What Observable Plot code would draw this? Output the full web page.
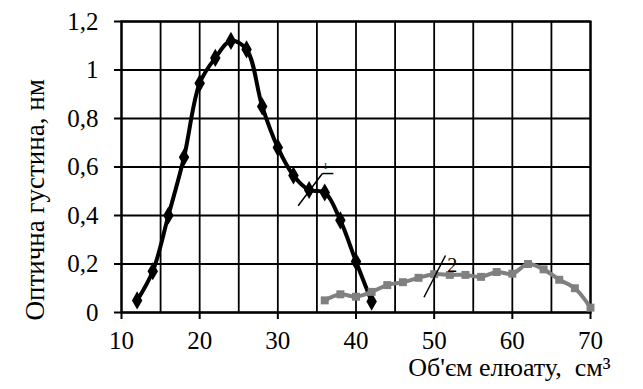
<!DOCTYPE html>
<html>
<head>
<meta charset="utf-8">
<script src="https://cdn.jsdelivr.net/npm/d3@7"></script>
<script src="https://cdn.jsdelivr.net/npm/@observablehq/plot@0.6"></script>
<style>
  html, body { margin: 0; padding: 0; background: #fff; }
  #chart svg, #chart svg text { font-family: "Liberation Serif", "Times New Roman", serif; }
</style>
</head>
<body>
<div id="chart"></div>
<script>
// ---- data ----
const xTicks = [10, 20, 30, 40, 50, 60, 70];
const xGridLines = [10, 15, 20, 25, 30, 35, 40, 45, 50, 55, 60, 65, 70];
const yTicks = [0, 0.2, 0.4, 0.6, 0.8, 1, 1.2];
const yTickLabels = ["0", "0,2", "0,4", "0,6", "0,8", "1", "1,2"];

const series1X = [12, 14, 16, 18, 20, 22, 24, 26, 28, 30, 32, 34, 36, 38, 40, 42];
const series1Y = [0.05, 0.17, 0.40, 0.64, 0.945, 1.05, 1.12, 1.085, 0.85, 0.68, 0.565, 0.505, 0.495, 0.38, 0.21, 0.045];

const series2X = [36, 38, 40, 42, 44, 46, 48, 50, 52, 54, 56, 58, 60, 62, 64, 66, 68, 70];
const series2Y = [0.05, 0.075, 0.065, 0.085, 0.113, 0.125, 0.143, 0.158, 0.155, 0.155, 0.147, 0.167, 0.16, 0.2, 0.178, 0.135, 0.1, 0.02];

const xTitle = "Об'єм елюату,  см³";
const yTitle = "Оптична густина, нм";

// annotation leaders (data coordinates)
const leaderX1 = [32.6, 35.7, 48.7];
const leaderY1 = [0.44, 0.573, 0.063];
const leaderX2 = [35.7, 37.1, 51.45];
const leaderY2 = [0.573, 0.573, 0.235];
const labelText = ["1", "2"];
const labelX = [36.1, 52.3];
const labelY = [0.603, 0.195];
const labelSize = [9, 20];

const s1 = series1X.map((x, i) => ({x, y: series1Y[i]}));
const s2 = series2X.map((x, i) => ({x, y: series2Y[i]}));
const leaders = leaderX1.map((x1, i) => ({x1, y1: leaderY1[i], x2: leaderX2[i], y2: leaderY2[i]}));
const labels = labelText.map((t, i) => ({t, x: labelX[i], y: labelY[i], s: labelSize[i]}));

const gray = "#808080";

const chart = Plot.plot({
  width: 643,
  height: 389,
  marginLeft: 121,
  marginRight: 53,
  marginTop: 21,
  marginBottom: 77,
  x: {domain: [10, 70]},
  y: {domain: [0, 1.2]},
  style: {fontFamily: "Liberation Serif", fontSize: "25px", color: "black", background: "white", overflow: "visible"},
  marks: [
    Plot.gridX(xGridLines, {stroke: "black", strokeOpacity: 1, strokeWidth: 1.8}),
    Plot.gridY(yTicks, {stroke: "black", strokeOpacity: 1, strokeWidth: 1.8}),
    Plot.frame({stroke: "black", strokeWidth: 2.2}),
    Plot.axisX(xTicks, {tickSize: 7, tickPadding: 12, label: null, strokeWidth: 2, fontSize: 25, tickFormat: d => String(d)}),
    Plot.axisY(yTicks, {tickSize: 7, tickPadding: 16, label: null, strokeWidth: 2, fontSize: 25, tickFormat: d => yTickLabels[yTicks.indexOf(d)]}),
    Plot.line(s1, {x: "x", y: "y", stroke: "black", strokeWidth: 4, curve: "catmull-rom"}),
    Plot.dot(s1, {x: "x", y: "y", symbol: "diamond", fill: "black", r: 5.5}),
    Plot.line(s2, {x: "x", y: "y", stroke: gray, strokeWidth: 4, curve: "catmull-rom"}),
    Plot.dot(s2, {x: "x", y: "y", symbol: "square", fill: gray, r: 4.5}),
    Plot.link(leaders, {x1: "x1", y1: "y1", x2: "x2", y2: "y2", stroke: "black", strokeWidth: 1.5}),
    Plot.text(labels, {x: "x", y: "y", text: "t", fontSize: "s", fill: "black"}),
    Plot.text([xTitle], {frameAnchor: "bottom-right", textAnchor: "end", dx: 20, dy: 63, fontSize: 26, fill: "black"}),
    Plot.text([yTitle], {frameAnchor: "bottom-left", textAnchor: "start", rotate: -90, dx: -78, dy: 8, fontSize: 27, fill: "black"})
  ]
});
document.getElementById("chart").appendChild(chart);
</script>
</body>
</html>
